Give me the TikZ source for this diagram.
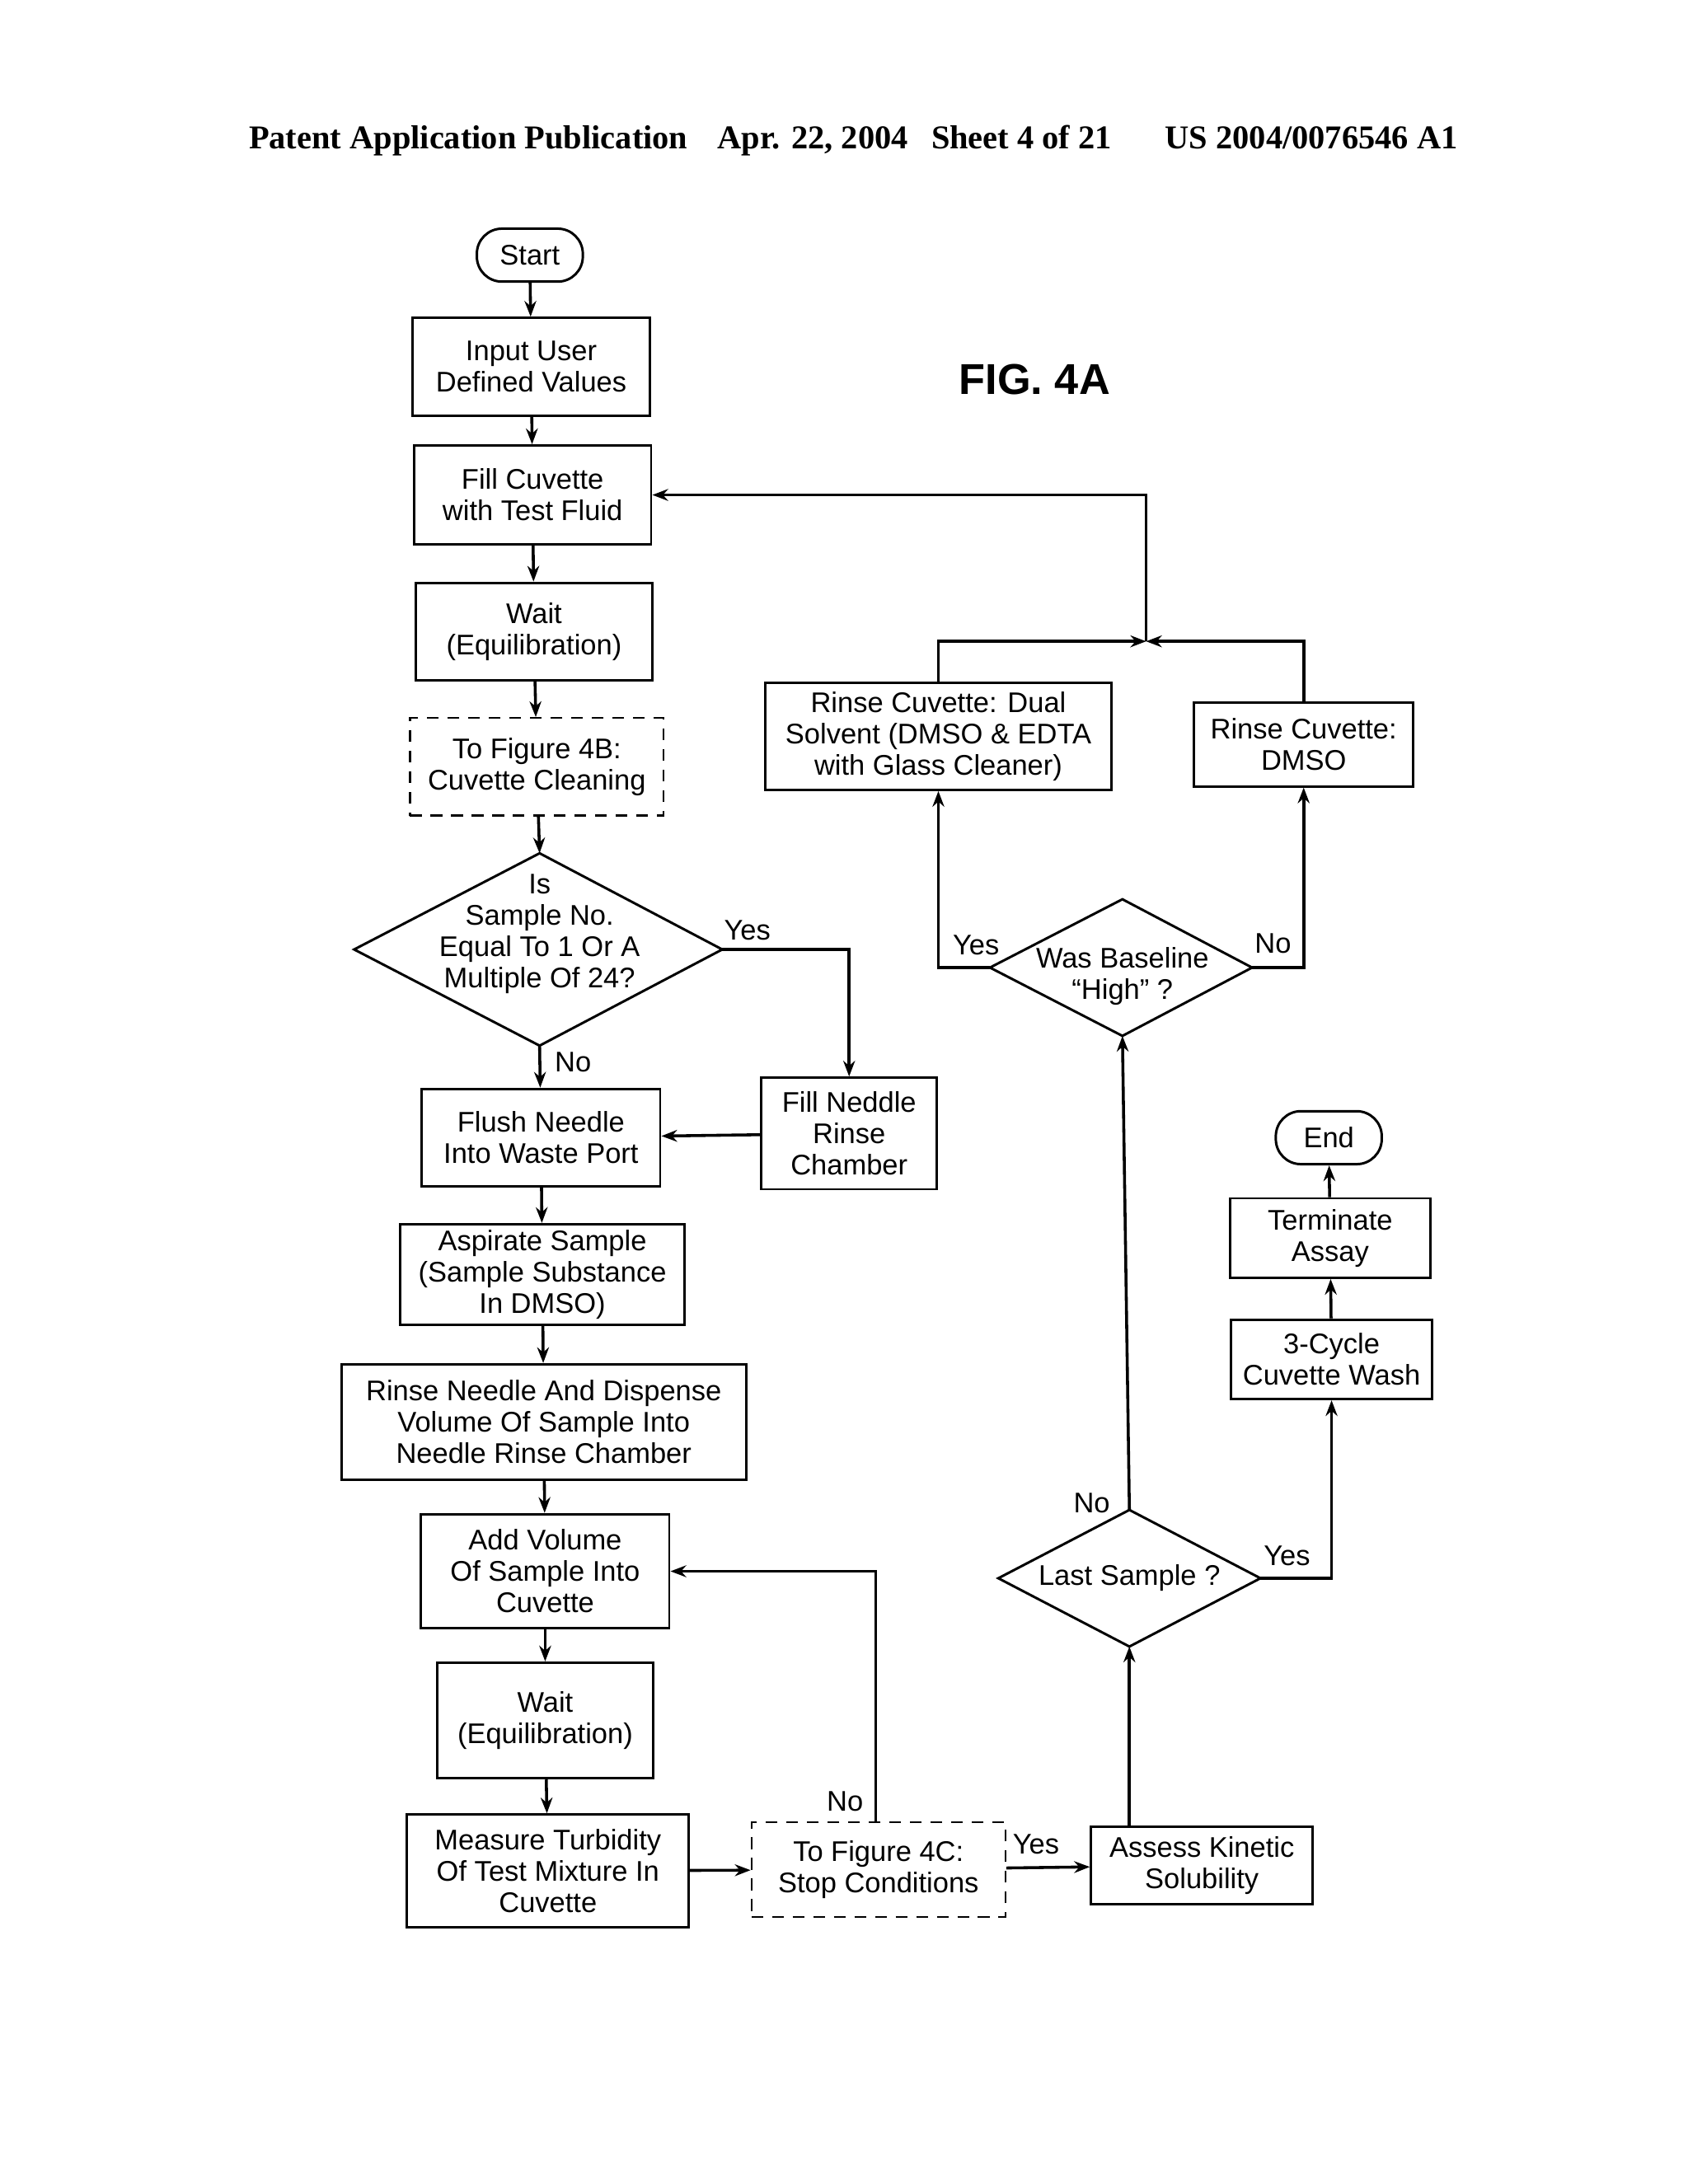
\documentclass[tikz,border=0pt]{standalone}
\usepackage{fontspec}
\setmainfont{Liberation Sans}
\newfontfamily\hdr{Liberation Serif}
\usetikzlibrary{shapes.geometric,arrows.meta}
\begin{document}
\begin{tikzpicture}[x=0.05cm,y=-0.05cm,
  every node/.style={font=\fontsize{29}{32}\selectfont,align=center,inner sep=2pt},
  box/.style={draw,line width=2.5pt},
  dbox/.style={draw,line width=2pt,dash pattern=on 12pt off 9pt},
  term/.style={draw,line width=2.5pt,rounded corners=0.9cm},
  dl/.style={line width=2.5pt,line join=miter},
  ln/.style={line width=3pt},
  ar/.style={ln,-{Stealth[length=16pt,width=12pt]}},
  lab/.style={font=\fontsize{29}{32}\selectfont}]
\useasboundingbox (0,0) rectangle (1210.5,1566.5);
\node[font=\hdr\bfseries\fontsize{34}{37}\selectfont,anchor=west] (hdr) at (177,101) {Patent Application Publication\hspace{0.9em}Apr. 22, 2004\hspace{0.7em}Sheet 4 of 21\hspace{1.6em}US 2004/0076546 A1};
\node[font=\bfseries\fontsize{44}{48}\selectfont] (fig) at (742,272) {FIG. 4A};

\node[term,minimum width=3.8cm,minimum height=1.9cm] (start) at (380,183) {Start};
\node[box,minimum width=8.5cm,minimum height=3.5cm] (input) at (381,263) {Input User\\Defined Values};
\node[box,minimum width=8.5cm,minimum height=3.55cm] (fill) at (382,355) {Fill Cuvette\\with Test Fluid};
\node[box,minimum width=8.5cm,minimum height=3.5cm] (wait) at (383,453) {Wait\\(Equilibration)};
\node[dbox,minimum width=9.1cm,minimum height=3.5cm] (f4b) at (385,550) {To Figure 4B:\\Cuvette Cleaning};
% diamond 1
\coordinate (d1n) at (387,612); \coordinate (d1s) at (387,750);
\coordinate (d1w) at (254,681); \coordinate (d1e) at (518,681);
\draw[dl] (d1n) -- (d1e) -- (d1s) -- (d1w) -- cycle;
\node (d1) at (387,670) {Is\\Sample No.\\Equal To 1 Or A\\Multiple Of 24?};
\node[box,minimum width=8.55cm,minimum height=3.5cm] (flush) at (388,816) {Flush Needle\\Into Waste Port};
\node[box,minimum width=6.3cm,minimum height=4cm] (ned) at (609,813) {Fill Neddle\\Rinse\\Chamber};
\node[box,minimum width=10.2cm,minimum height=3.6cm] (asp) at (389,914) {Aspirate Sample\\(Sample Substance\\In DMSO)};
\node[box,minimum width=14.5cm,minimum height=4.15cm] (rn) at (390,1020) {Rinse Needle And Dispense\\Volume Of Sample Into\\Needle Rinse Chamber};
\node[box,minimum width=8.9cm,minimum height=4.1cm] (add) at (391,1127) {Add Volume\\Of Sample Into\\Cuvette};
\node[box,minimum width=7.75cm,minimum height=4.15cm] (wait2) at (391,1234) {Wait\\(Equilibration)};
\node[box,minimum width=10.1cm,minimum height=4.05cm] (meas) at (393,1342) {Measure Turbidity\\Of Test Mixture In\\Cuvette};
\node[dbox,minimum width=9.1cm,minimum height=3.4cm] (f4c) at (630,1341) {To Figure 4C:\\Stop Conditions};
\node[box,minimum width=7.95cm,minimum height=2.8cm] (ass) at (862,1338) {Assess Kinetic\\Solubility};
% last sample diamond
\coordinate (lsn) at (810,1083); \coordinate (lss) at (810,1181);
\coordinate (lsw) at (716,1132); \coordinate (lse) at (904,1132);
\draw[dl] (lsn) -- (lse) -- (lss) -- (lsw) -- cycle;
\node (last) at (810,1132) {Last Sample ?};
\node[box,minimum width=7.2cm,minimum height=2.85cm] (cyc) at (955,975) {3-Cycle\\Cuvette Wash};
\node[box,minimum width=7.2cm,minimum height=2.85cm] (term) at (954,888) {Terminate\\Assay};
\node[term,minimum width=3.8cm,minimum height=1.9cm] (end) at (953,816) {End};
% baseline diamond
\coordinate (bn) at (805,645); \coordinate (bs) at (805,743);
\coordinate (bw) at (710,694); \coordinate (be) at (898,694);
\draw[dl] (bn) -- (be) -- (bs) -- (bw) -- cycle;
\node (base) at (805,700) {Was Baseline\\``High'' ?};
\node[box,minimum width=12.4cm,minimum height=3.85cm] (dual) at (673,528) {Rinse Cuvette: Dual\\Solvent (DMSO \& EDTA\\with Glass Cleaner)};
\node[box,minimum width=7.85cm,minimum height=3.0cm] (dmso) at (935,534) {Rinse Cuvette:\\DMSO};

\coordinate (j) at (822,460);
\draw[ar] (start) -- (input);
\draw[ar] (input) -- (fill);
\draw[ar] (fill) -- (wait);
\draw[ar] (wait) -- (f4b);
\draw[ar] (f4b) -- (d1n);
\draw[ar] (d1s) -- (flush);
\node[lab] (no1) at (411,762) {No};
\draw[ar] (d1e) -| (ned.north);
\node[lab] (yes1) at (536,667) {Yes};
\draw[ar] (ned) -- (flush);
\draw[ar] (flush) -- (asp);
\draw[ar] (asp) -- (rn);
\draw[ar] (rn) -- (add);
\draw[ar] (add) -- (wait2);
\draw[ar] (wait2) -- (meas);
\draw[ar] (meas) -- (f4c);
\draw[ar] (f4c) -- (ass);
\node[lab] (yes2) at (743,1323) {Yes};
\draw[ar] (628,1307) |- (add.east);
\node[lab] (no2) at (606,1292) {No};
\draw[ar] (ass.north -| lss) -- (lss);
\draw[ar] (lse) -| (cyc.south);
\node[lab] (yes3) at (923,1116) {Yes};
\draw[ar] (cyc) -- (term);
\draw[ar] (term) -- (end);
\draw[ar] (lsn) -- (bs);
\node[lab] (no3) at (783,1078) {No};
\draw[ar] (bw) -| (dual.south);
\node[lab] (yes4) at (700,678) {Yes};
\draw[ar] (be) -| (dmso.south);
\node[lab] (no4) at (913,677) {No};
\draw[ar] (dual.north) |- (j);
\draw[ar] (dmso.north) |- (j);
\draw[ar] (j) |- (fill.east);
\end{tikzpicture}
\end{document}
